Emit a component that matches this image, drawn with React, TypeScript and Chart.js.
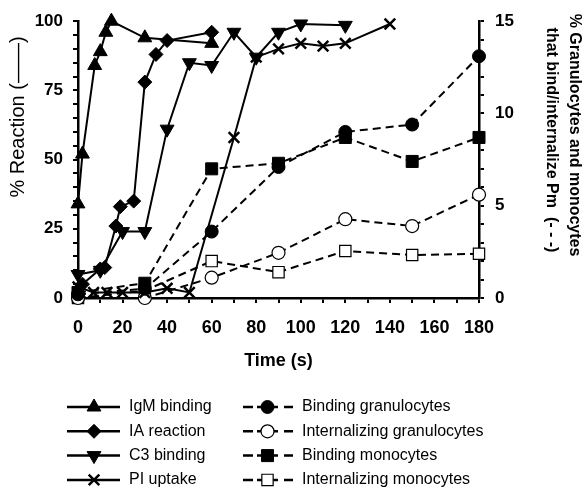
import React, { useEffect, useRef } from 'react';
import { Chart, registerables } from 'chart.js';
import { drawPoint } from 'chart.js/helpers';

Chart.register(...registerables);

// ---- data (time in s) ----
const igmTimes = [0, 2, 7.5, 10, 12.5, 15, 30, 60];
const igmValues = [34, 52, 84, 89, 96, 100, 94, 92];

const iaTimes = [2, 10, 12, 17, 19, 25, 30, 35, 40, 60];
const iaValues = [5, 10.5, 11, 26, 33, 35, 78, 88, 93, 96];

const c3Times = [0, 10, 20, 30, 40, 50, 60, 70, 80, 90, 100, 120];
const c3Values = [8.5, 10, 24, 24, 61, 85, 84, 96, 87, 96, 99, 98.5];

const piTimes = [0, 7, 13, 20, 30, 40, 50, 70, 80, 90, 100, 110, 120, 140];
const piValues = [4, 2, 2, 2, 2, 3.5, 2, 58, 87, 90, 92, 91, 92, 99];

const cellTimes = [0, 30, 60, 90, 120, 150, 180];
const bindGranValues = [0.2, 0.5, 3.6, 7.1, 9.0, 9.4, 13.1];
const intGranValues = [0, 0, 1.1, 2.45, 4.27, 3.9, 5.6];
const bindMonoValues = [0.3, 0.8, 7.0, 7.3, 8.7, 7.4, 8.7];
const intMonoValues = [0, 0.4, 2.0, 1.4, 2.55, 2.33, 2.4];

// ---- tick labels ----
const xTickLabels = [0, 20, 40, 60, 80, 100, 120, 140, 160, 180];
const leftTickLabels = [0, 25, 50, 75, 100];
const rightTickLabels = [0, 5, 10, 15];

const FONT = "'Liberation Sans', Arial, Helvetica, sans-serif";

const pts = (xs: number[], ys: number[]) => xs.map((x, i) => ({ x, y: ys[i] }));

const titlePlugin = {
  id: 'customTitles',
  afterDraw(chart: any) {
    const ctx = chart.ctx;
    const a = chart.chartArea;
    ctx.save();
    ctx.fillStyle = '#000';
    ctx.textAlign = 'center';
    ctx.textBaseline = 'middle';
    ctx.font = `bold 18px ${FONT}`;
    ctx.fillText('Time (s)', (a.left + a.right) / 2, 361);

    ctx.save();
    ctx.translate(18, 117);
    ctx.rotate(-Math.PI / 2);
    ctx.font = `20px ${FONT}`;
    ctx.fillText('% Reaction (——)', 0, 0);
    ctx.restore();

    ctx.save();
    ctx.translate(574, 135);
    ctx.rotate(Math.PI / 2);
    ctx.font = `bold 16px ${FONT}`;
    ctx.fillText('% Granulocytes and monocytes', 0, 0);
    ctx.restore();

    ctx.save();
    ctx.translate(551, 140);
    ctx.rotate(Math.PI / 2);
    ctx.font = `bold 16px ${FONT}`;
    ctx.fillText('that bind/internalize Pm  (- - -)', 0, 0);
    ctx.restore();

    ctx.restore();
  },
};

const legendPlugin = {
  id: 'customLegend',
  afterDraw(chart: any) {
    const ctx = chart.ctx;
    chart.data.datasets.forEach((ds: any, i: number) => {
      const col = i < 4 ? 0 : 1;
      const row = i % 4;
      const y = 407 + row * 24.3;
      ctx.save();
      ctx.strokeStyle = '#000';
      ctx.lineWidth = 2.5;
      ctx.beginPath();
      let mx: number;
      let tx: number;
      if (col === 0) {
        mx = 94;
        tx = 129;
        ctx.moveTo(67, y);
        ctx.lineTo(120, y);
      } else {
        mx = 267.5;
        tx = 302;
        ctx.moveTo(243, y);
        ctx.lineTo(253, y);
        ctx.moveTo(257, y);
        ctx.lineTo(278, y);
        ctx.moveTo(284, y);
        ctx.lineTo(293, y);
      }
      ctx.stroke();
      ctx.fillStyle = ds.pointBackgroundColor;
      ctx.strokeStyle = ds.pointBorderColor;
      ctx.lineWidth = ds.pointBorderWidth;
      ctx.setLineDash([]);
      drawPoint(
        ctx,
        {
          pointStyle: ds.pointStyle,
          rotation: ds.pointRotation || 0,
          radius: ds.pointRadius,
          borderWidth: ds.pointBorderWidth,
        } as any,
        mx,
        y
      );
      ctx.fillStyle = '#000';
      ctx.font = `16px ${FONT}`;
      ctx.textAlign = 'left';
      ctx.textBaseline = 'middle';
      ctx.fillText(ds.label, tx, y);
      ctx.restore();
    });
  },
};

export default function App() {
  const ref = useRef<HTMLCanvasElement | null>(null);

  useEffect(() => {
    if (!ref.current) return;
    const solid = (label: string, data: any[], style: string, radius: number, extra: any = {}) => ({
      label,
      data,
      yAxisID: 'y',
      borderColor: '#000',
      borderWidth: 2,
      pointStyle: style,
      pointRadius: radius,
      pointBackgroundColor: '#000',
      pointBorderColor: '#000',
      pointBorderWidth: 1,
      clip: false,
      ...extra,
    });
    const dashed = (label: string, data: any[], style: string, radius: number, fill: string, bw: number) => ({
      label,
      data,
      yAxisID: 'y2',
      borderColor: '#000',
      borderWidth: 2,
      borderDash: [8, 5],
      pointStyle: style,
      pointRadius: radius,
      pointBackgroundColor: fill,
      pointBorderColor: '#000',
      pointBorderWidth: bw,
      clip: false,
    });

    const tickFont = (size: number) => ({ family: FONT, size, weight: 'bold' as const });

    const chart = new Chart(ref.current, {
      type: 'line',
      data: {
        datasets: [
          solid('IgM binding', pts(igmTimes, igmValues), 'triangle', 8),
          solid('IA reaction', pts(iaTimes, iaValues), 'rectRot', 7),
          solid('C3 binding', pts(c3Times, c3Values), 'triangle', 8, { pointRotation: 180 }),
          solid('PI uptake', pts(piTimes, piValues), 'crossRot', 7.5, { pointBorderWidth: 2.5 }),
          dashed('Binding granulocytes', pts(cellTimes, bindGranValues), 'circle', 6.5, '#000', 1),
          dashed('Internalizing granulocytes', pts(cellTimes, intGranValues), 'circle', 6.5, '#fff', 1.2),
          dashed('Binding monocytes', pts(cellTimes, bindMonoValues), 'rect', 8.5, '#000', 1),
          dashed('Internalizing monocytes', pts(cellTimes, intMonoValues), 'rect', 8, '#fff', 1.2),
        ] as any,
      },
      options: {
        animation: false,
        responsive: false,
        devicePixelRatio: 1,
        layout: { padding: { top: 10, left: 0, right: 0, bottom: 0 } },
        plugins: { legend: { display: false }, tooltip: { enabled: false }, title: { display: false } },
        scales: {
          x: {
            type: 'linear',
            position: 'bottom',
            min: 0,
            max: 180,
            ticks: {
              stepSize: 10,
              autoSkip: false,
              maxRotation: 0,
              padding: 14,
              color: '#000',
              font: tickFont(18),
              callback: (v: any) => (xTickLabels.includes(Number(v)) ? String(v) : ''),
            },
            grid: { drawOnChartArea: false, drawTicks: true, tickLength: 5, color: '#000', lineWidth: 2 },
            border: { color: '#000', width: 2.5 },
            afterFit: (s: any) => {
              s.height = 195;
            },
          },
          y: {
            type: 'linear',
            position: 'left',
            min: 0,
            max: 100,
            ticks: {
              stepSize: 5,
              autoSkip: false,
              padding: 10,
              color: '#000',
              font: tickFont(17),
              callback: (v: any) => (leftTickLabels.includes(Number(v)) ? String(v) : ''),
            },
            grid: { drawOnChartArea: false, drawTicks: true, tickLength: 5, color: '#000', lineWidth: 2 },
            border: { color: '#000', width: 2.5 },
            afterFit: (s: any) => {
              s.width = 78;
            },
          },
          y2: {
            type: 'linear',
            position: 'right',
            min: 0,
            max: 15,
            ticks: {
              stepSize: 1,
              autoSkip: false,
              padding: 11,
              color: '#000',
              font: tickFont(17),
              callback: (v: any) => (rightTickLabels.includes(Number(v)) ? String(v) : ''),
            },
            grid: { drawOnChartArea: false, drawTicks: true, tickLength: 5, color: '#000', lineWidth: 2 },
            border: { color: '#000', width: 2.5 },
            afterFit: (s: any) => {
              s.width = 107;
            },
          },
        },
      } as any,
      plugins: [titlePlugin, legendPlugin],
    });
    return () => chart.destroy();
  }, []);

  return (
    <div style={{ position: 'fixed', left: 0, top: 0, width: 586, height: 493, background: '#fff' }}>
      <canvas ref={ref} width={586} height={493} style={{ display: 'block', width: 586, height: 493 }} />
    </div>
  );
}
